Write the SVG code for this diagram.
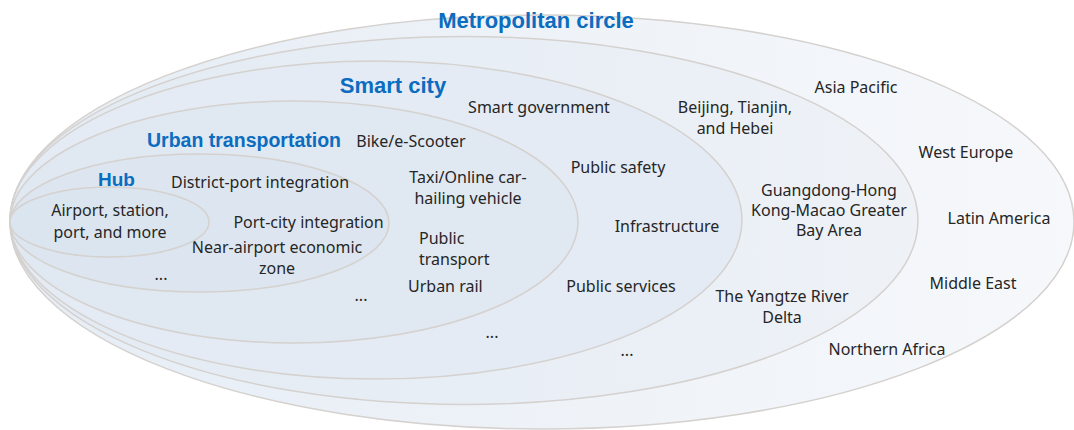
<svg xmlns="http://www.w3.org/2000/svg" width="1074" height="430" viewBox="0 0 1074 430">
<style>
.ring{stroke:#d4d1ce;stroke-width:1.5}
.t{font-family:"Noto Sans","Open Sans",sans-serif;font-size:16px;fill:#262626;text-anchor:middle}
.s{text-anchor:start}
.h{font-family:"Liberation Sans",Arial,sans-serif;font-weight:bold;fill:#0b6cc0;text-anchor:middle}
</style>
<defs>
<linearGradient id="gOuter" x1="0" y1="0" x2="1" y2="0">
<stop offset="0" stop-color="#e6edf5"/>
<stop offset="1" stop-color="#f6f8fb"/>
</linearGradient>
<linearGradient id="gReg" x1="0" y1="0" x2="1" y2="0">
<stop offset="0" stop-color="#e2eaf3"/>
<stop offset="1" stop-color="#eef2f7"/>
</linearGradient>
</defs>
<g id="metropolitan-circle">
<ellipse class="ring" cx="542" cy="222" rx="532" ry="207" fill="url(#gOuter)"/>
<text class="h" x="536" y="28" font-size="22">Metropolitan circle</text>
<text class="t" x="856" y="93">Asia Pacific</text>
<text class="t" x="966" y="158">West Europe</text>
<text class="t" x="999" y="224">Latin America</text>
<text class="t" x="973" y="289">Middle East</text>
<text class="t" x="887" y="355">Northern Africa</text>
</g>
<g id="regional">
<ellipse class="ring" cx="464" cy="220.5" rx="454" ry="184" fill="url(#gReg)"/>
<text class="t" x="735" y="113">Beijing, Tianjin,</text>
<text class="t" x="735" y="134">and Hebei</text>
<text class="t" x="829" y="196">Guangdong-Hong</text>
<text class="t" x="829" y="216">Kong-Macao Greater</text>
<text class="t" x="829" y="236">Bay Area</text>
<text class="t" x="782" y="302">The Yangtze River</text>
<text class="t" x="782" y="323">Delta</text>
</g>
<g id="smart-city">
<ellipse class="ring" cx="376" cy="220" rx="366" ry="159" fill="#e4ebf4"/>
<text class="h" x="393" y="93" font-size="22">Smart city</text>
<text class="t" x="539" y="113">Smart government</text>
<text class="t" x="618" y="173">Public safety</text>
<text class="t" x="667" y="232">Infrastructure</text>
<text class="t" x="621" y="292">Public services</text>
<text class="t" x="627" y="356">...</text>
</g>
<g id="urban-transportation">
<ellipse class="ring" cx="294" cy="222" rx="284" ry="121" fill="#e0e8f2"/>
<text class="h" x="244" y="147" font-size="19.5">Urban transportation</text>
<text class="t" x="411" y="147">Bike/e-Scooter</text>
<text class="t" x="468" y="183">Taxi/Online car-</text>
<text class="t" x="468" y="204">hailing vehicle</text>
<text class="t s" x="419" y="244">Public</text>
<text class="t s" x="419" y="265">transport</text>
<text class="t s" x="408" y="292">Urban rail</text>
<text class="t" x="492" y="338">...</text>
<text class="t" x="361" y="301">...</text>
</g>
<g id="hub">
<ellipse class="ring" cx="199.5" cy="223" rx="189.5" ry="69" fill="#dde6f0"/>
<text class="h" x="116.5" y="186" font-size="19">Hub</text>
<text class="t" x="260" y="188">District-port integration</text>
<text class="t" x="308.5" y="228">Port-city integration</text>
<text class="t" x="277" y="253">Near-airport economic</text>
<text class="t" x="277" y="274">zone</text>
<text class="t" x="161" y="280">...</text>
</g>
<g id="airport">
<ellipse class="ring" cx="109.5" cy="222" rx="99.5" ry="35" fill="#dbe5f0"/>
<text class="t" x="110" y="216">Airport, station,</text>
<text class="t" x="110" y="238">port, and more</text>
</g>
<g id="connectors"/>
</svg>
